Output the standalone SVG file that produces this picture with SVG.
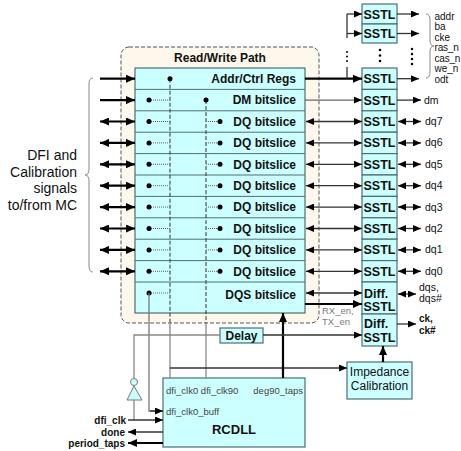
<svg xmlns="http://www.w3.org/2000/svg" width="461" height="451" viewBox="0 0 461 451">
<style>
.box{fill:#ccffff;stroke:#4f6f6f;stroke-width:1.2}
.sep{stroke:#4f6f6f;stroke-width:1}
.rt{font-family:"Liberation Sans",Arial,sans-serif;font-weight:bold;font-size:12px;fill:#111;text-anchor:end}
.ss{font-family:"Liberation Sans",Arial,sans-serif;font-weight:bold;font-size:12.5px;fill:#111;text-anchor:middle}
.lb{font-family:"Liberation Sans",Arial,sans-serif;font-size:10.5px;fill:#111}
.ab{font-family:"Liberation Sans",Arial,sans-serif;font-size:10px;fill:#111}
.bl{font-family:"Liberation Sans",Arial,sans-serif;font-weight:bold;font-size:10px;fill:#111}
.sm{font-family:"Liberation Sans",Arial,sans-serif;font-size:9.5px;fill:#444}
.thick{stroke:#000;stroke-width:2.2;fill:none}
.thin{stroke:#333;stroke-width:1.3;fill:none}
.gray{stroke:#888;stroke-width:1.3;fill:none}
.dash{stroke:#333;stroke-width:1;stroke-dasharray:4,2;fill:none}
.dot{stroke:#666;stroke-width:1;stroke-dasharray:1,1;fill:none}
.ba{marker-end:url(#big)}
.bb{marker-start:url(#big);marker-end:url(#big)}
.sa{marker-end:url(#sm)}
.sb{marker-start:url(#sm);marker-end:url(#sm)}
</style>
<defs>
<marker id="big" viewBox="0 0 9 8" refX="9" refY="4" markerWidth="9" markerHeight="8" markerUnits="userSpaceOnUse" orient="auto-start-reverse"><path d="M0,0 L9,4 L0,8 z" fill="#000"/></marker>
<marker id="sm" viewBox="0 0 8 7" refX="8" refY="3.5" markerWidth="8" markerHeight="7" markerUnits="userSpaceOnUse" orient="auto-start-reverse"><path d="M0,0 L8,3.5 L0,7 z" fill="#000"/></marker>
</defs>
<rect width="461" height="451" fill="#fff"/>

<g id="rw-path">
<rect x="121" y="47" width="198" height="276" rx="8" fill="#fdf7ec" stroke="#555" stroke-width="1" stroke-dasharray="4,2"/>
<text x="220" y="62" class="rt" style="text-anchor:middle">Read/Write Path</text>
</g>

<g id="block">
<rect x="135" y="68" width="170" height="245" class="box"/>
<line x1="135" y1="89.4" x2="305" y2="89.4" class="sep"/>
<line x1="135" y1="110.8" x2="305" y2="110.8" class="sep"/>
<line x1="135" y1="132.2" x2="305" y2="132.2" class="sep"/>
<line x1="135" y1="153.6" x2="305" y2="153.6" class="sep"/>
<line x1="135" y1="175" x2="305" y2="175" class="sep"/>
<line x1="135" y1="196.4" x2="305" y2="196.4" class="sep"/>
<line x1="135" y1="217.8" x2="305" y2="217.8" class="sep"/>
<line x1="135" y1="239.2" x2="305" y2="239.2" class="sep"/>
<line x1="135" y1="260.6" x2="305" y2="260.6" class="sep"/>
<line x1="135" y1="282" x2="305" y2="282" class="sep"/>
<text x="296" y="83" class="rt">Addr/Ctrl Regs</text>
<text x="296" y="104.4" class="rt">DM bitslice</text>
<text x="296" y="125.8" class="rt">DQ bitslice</text>
<text x="296" y="147.2" class="rt">DQ bitslice</text>
<text x="296" y="168.6" class="rt">DQ bitslice</text>
<text x="296" y="190" class="rt">DQ bitslice</text>
<text x="296" y="211.4" class="rt">DQ bitslice</text>
<text x="296" y="232.8" class="rt">DQ bitslice</text>
<text x="296" y="254.2" class="rt">DQ bitslice</text>
<text x="296" y="275.6" class="rt">DQ bitslice</text>
<text x="296" y="299" class="rt">DQS bitslice</text>
</g>

<g id="sstl">
<rect x="362" y="4" width="35" height="20" class="box"/>
<rect x="362" y="24" width="35" height="19" class="box"/>
<text x="379.5" y="18.5" class="ss">SSTL</text>
<text x="379.5" y="38" class="ss">SSTL</text>
<circle cx="380" cy="50" r="1.3" fill="#000"/>
<circle cx="380" cy="55.5" r="1.3" fill="#000"/>
<circle cx="380" cy="61" r="1.3" fill="#000"/>
<rect x="362" y="68" width="35" height="21.4" class="box"/>
<rect x="362" y="89.4" width="35" height="21.4" class="box"/>
<rect x="362" y="110.8" width="35" height="21.4" class="box"/>
<rect x="362" y="132.2" width="35" height="21.4" class="box"/>
<rect x="362" y="153.6" width="35" height="21.4" class="box"/>
<rect x="362" y="175" width="35" height="21.4" class="box"/>
<rect x="362" y="196.4" width="35" height="21.4" class="box"/>
<rect x="362" y="217.8" width="35" height="21.4" class="box"/>
<rect x="362" y="239.2" width="35" height="21.4" class="box"/>
<rect x="362" y="260.6" width="35" height="21.4" class="box"/>
<rect x="362" y="282" width="35" height="32" class="box"/>
<rect x="362" y="314" width="35" height="32" class="box"/>
<text x="379.5" y="83.2" class="ss">SSTL</text>
<text x="379.5" y="104.6" class="ss">SSTL</text>
<text x="379.5" y="126" class="ss">SSTL</text>
<text x="379.5" y="147.4" class="ss">SSTL</text>
<text x="379.5" y="168.8" class="ss">SSTL</text>
<text x="379.5" y="190.2" class="ss">SSTL</text>
<text x="379.5" y="211.6" class="ss">SSTL</text>
<text x="379.5" y="233" class="ss">SSTL</text>
<text x="379.5" y="254.4" class="ss">SSTL</text>
<text x="379.5" y="275.8" class="ss">SSTL</text>
<text x="364" y="298" class="ss" style="text-anchor:start">Diff.</text>
<text x="379.5" y="311" class="ss">SSTL</text>
<text x="364" y="328" class="ss" style="text-anchor:start">Diff.</text>
<text x="379.5" y="342" class="ss">SSTL</text>
</g>

<g id="delay">
<rect x="220" y="328" width="43" height="15" class="box"/>
<text x="241.5" y="340" class="rt" style="text-anchor:middle">Delay</text>
</g>

<g id="impedance">
<rect x="347" y="362" width="65" height="37" class="box"/>
<text x="379.5" y="376" class="lb" style="font-size:12px;text-anchor:middle">Impedance</text>
<text x="379.5" y="390" class="lb" style="font-size:12px;text-anchor:middle">Calibration</text>
</g>

<g id="rcdll">
<rect x="163" y="378" width="142" height="69" class="box"/>
<text x="166" y="394" class="sm">dfi_clk0 dfi_clk90</text>
<text x="303" y="394" class="sm" style="text-anchor:end">deg90_taps</text>
<text x="166" y="415" class="sm">dfi_clk0_buff</text>
<text x="234" y="434" class="rt" style="font-size:13px;text-anchor:middle">RCDLL</text>
</g>

<g id="inverter">
<path d="M134,386 L127,400 L142,400 z" fill="#ccffff" stroke="#777" stroke-width="1"/>
<circle cx="134" cy="382" r="3.5" fill="#ccffff" stroke="#777" stroke-width="1"/>
</g>

<g id="mc-labels">
<path d="M93,78 Q89,78 89,84 L89,169 Q89,175 85,175 Q89,175 89,181 L89,266 Q89,272 93,272" fill="none" stroke="#888" stroke-width="1"/>
<g font-family="'Liberation Sans',Arial,sans-serif" font-size="14" fill="#111" text-anchor="end">
<text x="77" y="160">DFI and</text>
<text x="77" y="177">Calibration</text>
<text x="77" y="193">signals</text>
<text x="77" y="210">to/from MC</text>
</g>
</g>

<g id="out-labels">
<path d="M426,14 Q430,14 430,20 L430,40 Q430,46 434,46 Q430,46 430,52 L430,72 Q430,78 426,78" fill="none" stroke="#888" stroke-width="1"/>
<text x="434.5" y="19.5" class="ab">addr</text>
<text x="434.5" y="30" class="ab">ba</text>
<text x="434.5" y="40.5" class="ab">cke</text>
<text x="434.5" y="51" class="ab" letter-spacing="-0.2">ras_n</text>
<text x="434.5" y="61.5" class="ab" letter-spacing="-0.2">cas_n</text>
<text x="434.5" y="72" class="ab">we_n</text>
<text x="434.5" y="82.5" class="ab">odt</text>
<circle cx="412" cy="49" r="1.2" fill="#000"/>
<circle cx="412" cy="54" r="1.2" fill="#000"/>
<circle cx="412" cy="59" r="1.2" fill="#000"/>
<circle cx="412" cy="64" r="1.2" fill="#000"/>
<text x="424" y="103.5" class="lb">dm</text>
<text x="425" y="125" class="lb">dq7</text>
<text x="425" y="146.4" class="lb">dq6</text>
<text x="425" y="167.8" class="lb">dq5</text>
<text x="425" y="189.2" class="lb">dq4</text>
<text x="425" y="210.6" class="lb">dq3</text>
<text x="425" y="232" class="lb">dq2</text>
<text x="425" y="253.4" class="lb">dq1</text>
<text x="425" y="274.8" class="lb">dq0</text>
<text x="419" y="291" class="lb">dqs,</text>
<text x="419" y="302" class="lb">dqs#</text>
<text x="419" y="322" class="bl">ck,</text>
<text x="419" y="334" class="bl">ck#</text>
<text x="322" y="314" class="sm" style="fill:#777">RX_en,</text>
<text x="322" y="325" class="sm" style="fill:#777">TX_en</text>
<text x="126" y="424" class="bl" style="text-anchor:end">dfi_clk</text>
<text x="125" y="436" class="bl" style="text-anchor:end">done</text>
<text x="125" y="447" class="bl" style="text-anchor:end">period_taps</text>
</g>

<g id="connectors">
<line x1="100" y1="78.7" x2="135" y2="78.7" class="thick ba"/>
<line x1="100" y1="100.1" x2="135" y2="100.1" class="thick ba"/>
<line x1="100" y1="121.5" x2="135" y2="121.5" class="thick bb"/>
<line x1="100" y1="142.9" x2="135" y2="142.9" class="thick bb"/>
<line x1="100" y1="164.3" x2="135" y2="164.3" class="thick bb"/>
<line x1="100" y1="185.7" x2="135" y2="185.7" class="thick bb"/>
<line x1="100" y1="207.1" x2="135" y2="207.1" class="thick bb"/>
<line x1="100" y1="228.5" x2="135" y2="228.5" class="thick bb"/>
<line x1="100" y1="249.9" x2="135" y2="249.9" class="thick bb"/>
<line x1="100" y1="271.3" x2="135" y2="271.3" class="thick bb"/>
<line x1="170" y1="78.7" x2="170" y2="323" class="dash"/>
<line x1="206" y1="100.1" x2="206" y2="323" class="dash"/>
<line x1="170" y1="323" x2="170" y2="378" class="gray"/>
<line x1="206" y1="323" x2="206" y2="378" class="gray"/>
<circle cx="170" cy="78.7" r="2.5" fill="#000"/>
<circle cx="206" cy="100.1" r="2.5" fill="#000"/>
<line x1="149" y1="100.1" x2="170" y2="100.1" class="dot"/><circle cx="149" cy="100.1" r="2.5" fill="#000"/>
<line x1="149" y1="121.5" x2="170" y2="121.5" class="dot"/><circle cx="149" cy="121.5" r="2.5" fill="#000"/>
<line x1="206" y1="121.5" x2="220" y2="121.5" class="dot"/><circle cx="220" cy="121.5" r="2.5" fill="#000"/>
<line x1="149" y1="142.9" x2="170" y2="142.9" class="dot"/><circle cx="149" cy="142.9" r="2.5" fill="#000"/>
<line x1="206" y1="142.9" x2="220" y2="142.9" class="dot"/><circle cx="220" cy="142.9" r="2.5" fill="#000"/>
<line x1="149" y1="164.3" x2="170" y2="164.3" class="dot"/><circle cx="149" cy="164.3" r="2.5" fill="#000"/>
<line x1="206" y1="164.3" x2="220" y2="164.3" class="dot"/><circle cx="220" cy="164.3" r="2.5" fill="#000"/>
<line x1="149" y1="185.7" x2="170" y2="185.7" class="dot"/><circle cx="149" cy="185.7" r="2.5" fill="#000"/>
<line x1="206" y1="185.7" x2="220" y2="185.7" class="dot"/><circle cx="220" cy="185.7" r="2.5" fill="#000"/>
<line x1="149" y1="207.1" x2="170" y2="207.1" class="dot"/><circle cx="149" cy="207.1" r="2.5" fill="#000"/>
<line x1="206" y1="207.1" x2="220" y2="207.1" class="dot"/><circle cx="220" cy="207.1" r="2.5" fill="#000"/>
<line x1="149" y1="228.5" x2="170" y2="228.5" class="dot"/><circle cx="149" cy="228.5" r="2.5" fill="#000"/>
<line x1="206" y1="228.5" x2="220" y2="228.5" class="dot"/><circle cx="220" cy="228.5" r="2.5" fill="#000"/>
<line x1="149" y1="249.9" x2="170" y2="249.9" class="dot"/><circle cx="149" cy="249.9" r="2.5" fill="#000"/>
<line x1="206" y1="249.9" x2="220" y2="249.9" class="dot"/><circle cx="220" cy="249.9" r="2.5" fill="#000"/>
<line x1="149" y1="271.3" x2="170" y2="271.3" class="dot"/><circle cx="149" cy="271.3" r="2.5" fill="#000"/>
<line x1="206" y1="271.3" x2="220" y2="271.3" class="dot"/><circle cx="220" cy="271.3" r="2.5" fill="#000"/>
<line x1="149" y1="293" x2="170" y2="293" class="dot"/><circle cx="149" cy="293" r="2.5" fill="#000"/>
<polyline points="149,293 149,411 163,411" class="gray" style="stroke:#777"/>
<line x1="150" y1="411" x2="163" y2="411" class="thin sa"/>
<line x1="170" y1="368" x2="347" y2="368" class="thin sa"/>
<line x1="283" y1="378" x2="283" y2="313" class="thick ba"/>
<line x1="305" y1="78.7" x2="362" y2="78.7" class="thick ba"/>
<line x1="347" y1="78.7" x2="347" y2="67" class="thin"/>
<line x1="347" y1="38" x2="347" y2="14" class="thin"/>
<circle cx="347" cy="52" r="1" fill="#000"/>
<circle cx="347" cy="56.5" r="1" fill="#000"/>
<circle cx="347" cy="61" r="1" fill="#000"/>
<line x1="347" y1="14" x2="362" y2="14" class="thin sa"/>
<line x1="347" y1="33.5" x2="362" y2="33.5" class="thin sa"/>
<line x1="397" y1="14" x2="419" y2="14" class="thin sa"/>
<line x1="397" y1="33.5" x2="419" y2="33.5" class="thin sa"/>
<line x1="397" y1="78.7" x2="419" y2="78.7" class="thin sa"/>
<line x1="397" y1="100.1" x2="421" y2="100.1" class="thin sa"/>
<line x1="398" y1="121.5" x2="421" y2="121.5" class="thin sb"/>
<line x1="398" y1="142.9" x2="421" y2="142.9" class="thin sb"/>
<line x1="398" y1="164.3" x2="421" y2="164.3" class="thin sb"/>
<line x1="398" y1="185.7" x2="421" y2="185.7" class="thin sb"/>
<line x1="398" y1="207.1" x2="421" y2="207.1" class="thin sb"/>
<line x1="398" y1="228.5" x2="421" y2="228.5" class="thin sb"/>
<line x1="398" y1="249.9" x2="421" y2="249.9" class="thin sb"/>
<line x1="398" y1="271.3" x2="421" y2="271.3" class="thin sb"/>
<line x1="398" y1="294" x2="416" y2="294" class="thin sb"/>
<line x1="397" y1="324" x2="416" y2="324" class="thin sa"/>
<line x1="305" y1="100.1" x2="362" y2="100.1" class="thin sa" style="stroke:#666"/>
<line x1="306" y1="121.5" x2="362" y2="121.5" class="thin sb"/>
<line x1="306" y1="142.9" x2="362" y2="142.9" class="thin sb"/>
<line x1="306" y1="164.3" x2="362" y2="164.3" class="thin sb"/>
<line x1="306" y1="185.7" x2="362" y2="185.7" class="thin sb"/>
<line x1="306" y1="207.1" x2="362" y2="207.1" class="thin sb"/>
<line x1="306" y1="228.5" x2="362" y2="228.5" class="thin sb"/>
<line x1="306" y1="249.9" x2="362" y2="249.9" class="thin sb"/>
<line x1="306" y1="271.3" x2="362" y2="271.3" class="thin sb"/>
<line x1="306" y1="293" x2="362" y2="293" class="thin sb"/>
<line x1="305" y1="304" x2="362" y2="304" class="thick ba"/>
<polyline points="220,335 134,335 134,378.5" class="gray"/>
<line x1="263" y1="335" x2="362" y2="335" class="thin sa"/>
<line x1="134" y1="400" x2="134" y2="420" class="gray"/>
<line x1="128" y1="420" x2="163" y2="420" class="thin sa"/>
<line x1="163" y1="432" x2="128" y2="432" class="thin sa"/>
<line x1="163" y1="443" x2="128" y2="443" class="thick ba"/>
<line x1="383" y1="362" x2="383" y2="346" class="thick ba"/>
</g>
</svg>
